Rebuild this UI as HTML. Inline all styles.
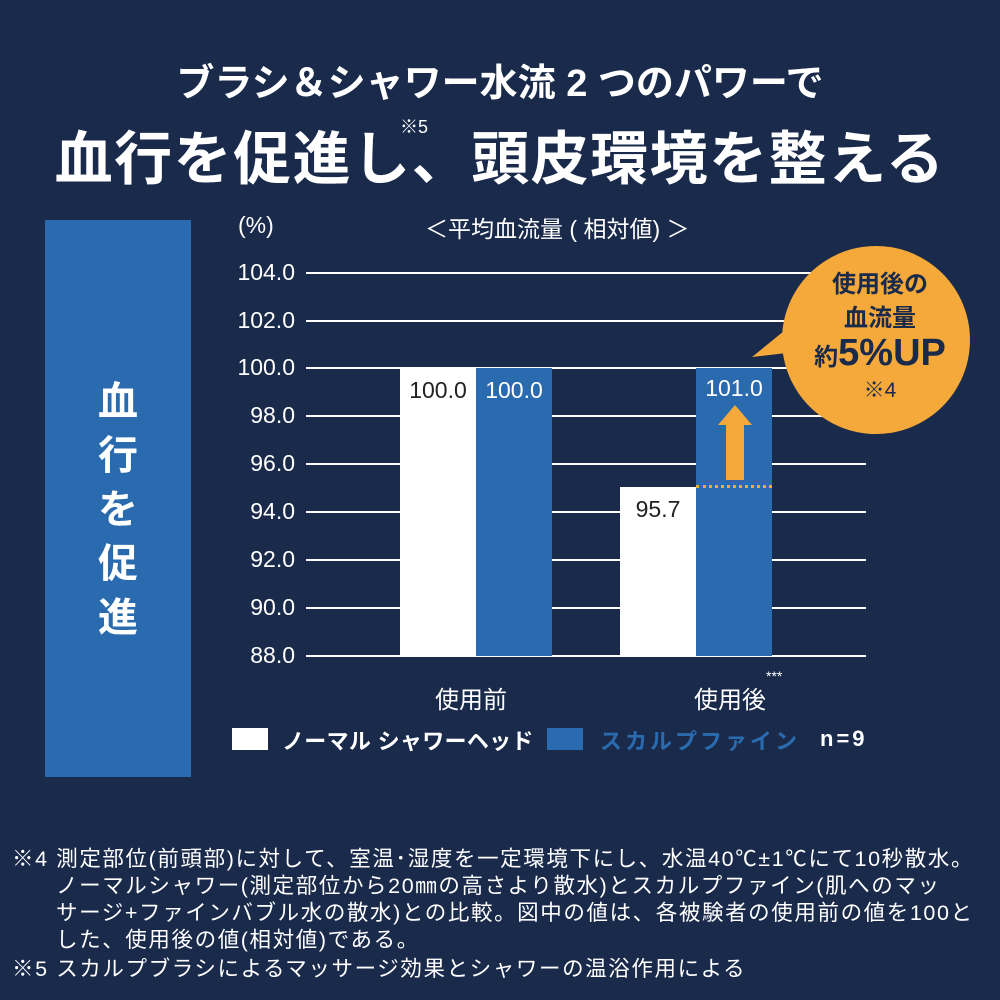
<!DOCTYPE html>
<html><head><meta charset="utf-8"><style>
body{margin:0;width:1000px;height:1000px;background:#1a2a4b;overflow:hidden;font-family:"Liberation Sans","Noto Sans CJK JP",sans-serif;color:#fff;position:relative}
.a{position:absolute;white-space:nowrap}
.t{font-size:23px;right:705px;text-align:right}
.g{position:absolute;left:306px;width:560px;height:2px;background:#fff}
.fn{font-size:21.5px;line-height:26px;letter-spacing:1.6px}
</style></head><body>
<div class="a" style="top:52px;left:0;width:1000px;text-align:center;font-size:38px;font-weight:bold">ブラシ＆シャワー水流 2 つのパワーで</div>
<div class="a" style="top:112px;left:0;width:1000px;text-align:center;font-size:58px;font-weight:bold;letter-spacing:1.5px">血行を促進し、頭皮環境を整える</div>
<div class="a" style="left:400px;top:113px;font-size:18px">※5</div>
<div class="a" style="left:45px;top:220px;width:146px;height:557px;background:#2a6aae"></div>
<div class="a" style="left:45px;top:375px;width:146px;text-align:center;font-size:40px;font-weight:bold;line-height:54px;white-space:normal">血<br>行<br>を<br>促<br>進</div>
<div class="a" style="left:238px;top:212px;font-size:23px">(%)</div>
<div class="a" style="left:425px;top:210px;font-size:23px">＜平均血流量 ( 相対値) ＞</div>
<div class="g" style="top:272px"></div><div class="g" style="top:320px"></div><div class="g" style="top:367px"></div><div class="g" style="top:415px"></div><div class="g" style="top:463px"></div><div class="g" style="top:511px"></div><div class="g" style="top:559px"></div><div class="g" style="top:607px"></div><div class="g" style="top:655px"></div>
<div class="a t" style="top:259px">104.0</div><div class="a t" style="top:307px">102.0</div><div class="a t" style="top:354px">100.0</div><div class="a t" style="top:402px">98.0</div><div class="a t" style="top:450px">96.0</div><div class="a t" style="top:498px">94.0</div><div class="a t" style="top:546px">92.0</div><div class="a t" style="top:594px">90.0</div><div class="a t" style="top:642px">88.0</div>
<div class="a" style="left:400px;top:368px;width:76px;height:288px;background:#fff;color:#222;text-align:center;font-size:23px;line-height:44px">100.0</div>
<div class="a" style="left:476px;top:368px;width:76px;height:288px;background:#2a6aae;text-align:center;font-size:23px;line-height:44px">100.0</div>
<div class="a" style="left:620px;top:487px;width:76px;height:169px;background:#fff;color:#222;text-align:center;font-size:23px;line-height:44px">95.7</div>
<div class="a" style="left:696px;top:368px;width:76px;height:288px;background:#2a6aae;text-align:center;font-size:23px;line-height:40px">101.0</div>
<div class="a" style="left:696px;top:485px;width:76px;border-top:3px dotted #f4a93a"></div>
<svg class="a" style="left:0;top:0" width="1000" height="1000">
<polygon points="726,480 744,480 744,425 752,425 735,405 718,425 726,425" fill="#f4a93a"/>
<circle cx="876" cy="340" r="94" fill="#f4a93a"/>
<polygon points="752,357 800,318 812,350" fill="#f4a93a"/>
</svg>
<div class="a" style="left:780px;top:268px;width:200px;text-align:center;color:#1a2a4b;font-weight:bold;font-size:24px;line-height:34px">使用後の<br>血流量<br>約<span style="font-size:38px">5%UP</span></div>
<div class="a" style="left:780px;top:374px;width:200px;text-align:center;color:#1a2a4b;font-size:21px">※4</div>
<div class="a" style="left:435px;top:680px;font-size:24px">使用前</div>
<div class="a" style="left:694px;top:680px;font-size:24px">使用後<span style="font-size:14px;vertical-align:top;position:relative;top:-12px">***</span></div>
<div class="a" style="left:232px;top:728px;width:36px;height:22px;background:#fff"></div>
<div class="a" style="left:282px;top:724px;font-size:22px;font-weight:bold;letter-spacing:0.3px">ノーマル シャワーヘッド</div>
<div class="a" style="left:547px;top:728px;width:36px;height:22px;background:#2a6aae"></div>
<div class="a" style="left:600px;top:724px;font-size:22px;font-weight:bold;color:#2a6aae;letter-spacing:3px">スカルプファイン</div>
<div class="a" style="left:820px;top:726px;font-size:22px;font-weight:bold;letter-spacing:3px">n=9</div>
<div class="a fn" style="left:12px;top:846px">※4 測定部位(前頭部)に対して、室温･湿度を一定環境下にし、水温40℃±1℃にて10秒散水。</div>
<div class="a fn" style="left:56px;top:873px">ノーマルシャワー(測定部位から20㎜の高さより散水)とスカルプファイン(肌へのマッ</div>
<div class="a fn" style="left:56px;top:900px">サージ+ファインバブル水の散水)との比較。図中の値は、各被験者の使用前の値を100と</div>
<div class="a fn" style="left:56px;top:927px">した、使用後の値(相対値)である。</div>
<div class="a fn" style="left:12px;top:956px">※5 スカルプブラシによるマッサージ効果とシャワーの温浴作用による</div>
</body></html>
